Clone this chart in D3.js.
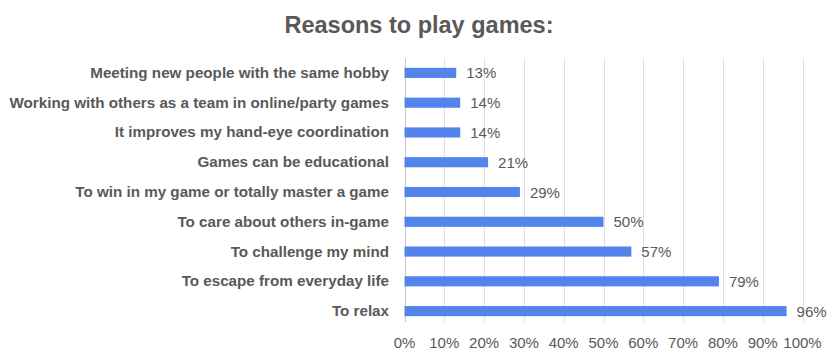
<!DOCTYPE html>
<html>
<head>
<meta charset="utf-8">
<script src="https://cdn.jsdelivr.net/npm/d3@7"></script>
<style>
  body { margin: 0; background: #fff; }
  text { font-family: "Liberation Sans", Arial, sans-serif; }
</style>
</head>
<body>
<div id="chart"></div>
<script>
var reasons = [
    "Meeting new people with the same hobby",
    "Working with others as a team in online/party games",
    "It improves my hand-eye coordination",
    "Games can be educational",
    "To win in my game or totally master a game",
    "To care about others in-game",
    "To challenge my mind",
    "To escape from everyday life",
    "To relax"
];
var percents = [13, 14, 14, 21, 29, 50, 57, 79, 96];
var tickValues = [0, 10, 20, 30, 40, 50, 60, 70, 80, 90, 100];

var width = 840;
var height = 361;
var plotLeft = 404.5, plotRight = 802.5, plotTop = 58, plotBottom = 326;

var svg = d3.select("#chart").append("svg")
    .attr("width", width)
    .attr("height", height);

// title
svg.append("text")
    .text("Reasons to play games:")
    .attr("x", 419)
    .attr("y", 33)
    .attr("text-anchor", "middle")
    .attr("font-size", "23.5px")
    .attr("font-weight", "bold")
    .attr("fill", "#595959");

var x = d3.scaleLinear().domain([0, 100]).range([plotLeft, plotRight]);
var y = d3.scaleBand().domain(reasons).range([plotTop, plotBottom]).paddingInner(0.66).paddingOuter(0.33);

// gridlines
svg.append("g").selectAll("line")
    .data(tickValues)
    .enter().append("line")
    .attr("x1", function(d) { return Math.round(x(d)) + 0.5; })
    .attr("x2", function(d) { return Math.round(x(d)) + 0.5; })
    .attr("y1", plotTop)
    .attr("y2", 322)
    .attr("stroke", function(d) { return d === 0 ? "#c8c8c8" : "#e0e0e0"; })
    .attr("stroke-width", 1);

// tick labels
svg.append("g").selectAll("text")
    .data(tickValues)
    .enter().append("text")
    .text(function(d) { return d + "%"; })
    .attr("x", function(d) { return x(d); })
    .attr("y", 348)
    .attr("text-anchor", "middle")
    .attr("font-size", "15px")
    .attr("fill", "#595959");

// bars
svg.append("g").selectAll("rect")
    .data(percents)
    .enter().append("rect")
    .attr("x", x(0))
    .attr("y", function(d, i) { return y(reasons[i]); })
    .attr("width", function(d) { return x(d) - x(0); })
    .attr("height", y.bandwidth())
    .attr("fill", "#5384ec");

// value labels
svg.append("g").selectAll("text")
    .data(percents)
    .enter().append("text")
    .text(function(d) { return d + "%"; })
    .attr("x", function(d) { return x(d) + 10; })
    .attr("y", function(d, i) { return y(reasons[i]) + y.bandwidth() / 2 + 5.5; })
    .attr("font-size", "15px")
    .attr("fill", "#595959");

// category labels
svg.append("g").selectAll("text")
    .data(reasons)
    .enter().append("text")
    .text(function(d) { return d; })
    .attr("x", 389)
    .attr("y", function(d) { return y(d) + y.bandwidth() / 2 + 5; })
    .attr("text-anchor", "end")
    .attr("font-size", "15.2px")
    .attr("font-weight", "bold")
    .attr("fill", "#595959");
</script>
</body>
</html>
